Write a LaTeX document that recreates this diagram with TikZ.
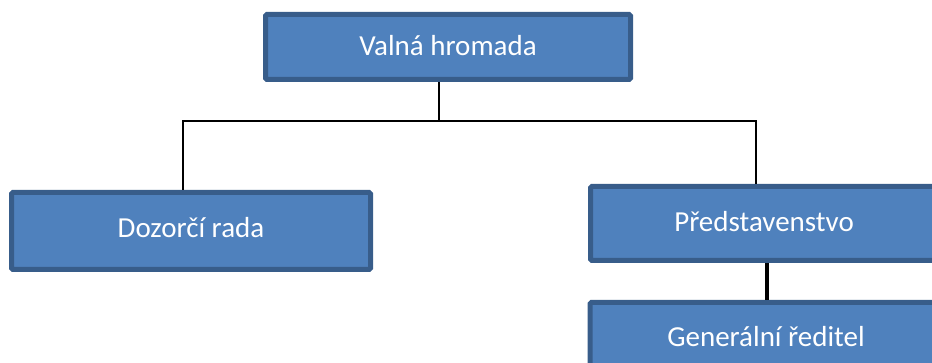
\documentclass[tikz,border=0pt]{standalone}
\usepackage{fontspec}
\setmainfont{Carlito}
\definecolor{boxfill}{HTML}{4F81BD}
\definecolor{boxline}{HTML}{385D8A}
\tikzset{
  orgbox/.style={draw=boxline, fill=boxfill, line width=5pt, rounded corners=1.5pt,
    text=white, font=\fontsize{29}{34}\selectfont, inner sep=0pt, anchor=center},
  conn/.style={draw=black, line width=2.5pt},
  connthick/.style={draw=black, line width=3.5pt}
}
\begin{document}
\begin{tikzpicture}[x=1pt,y=-1pt]
\useasboundingbox (0,0) rectangle (932,363);
\node[orgbox, minimum width=365pt, minimum height=65pt] (VH) at (448,47) {\raisebox{3pt}{Valná hromada}};
\node[orgbox, minimum width=359pt, minimum height=77pt] (DR) at (191,231) {\raisebox{8pt}{Dozorčí rada}};
\node[orgbox, minimum width=347pt, minimum height=74pt] (PR) at (764,223.5) {\raisebox{4pt}{Představenstvo}};
\node[orgbox, minimum width=352pt, minimum height=71pt] (GR) at (766,338) {\raisebox{4pt}{Generální ředitel}};
\coordinate (bus) at (439,121);
\coordinate (bl) at (183,121);
\coordinate (br) at (756,121);
\coordinate (pg) at (767,0);
\draw[conn] (bus |- VH.south) -- (bus);
\draw[conn] (bl |- DR.north) -- (bl) -- (br) -- (br |- PR.north);
\draw[connthick] (pg |- PR.south) -- (pg |- GR.north);
\end{tikzpicture}
\end{document}
